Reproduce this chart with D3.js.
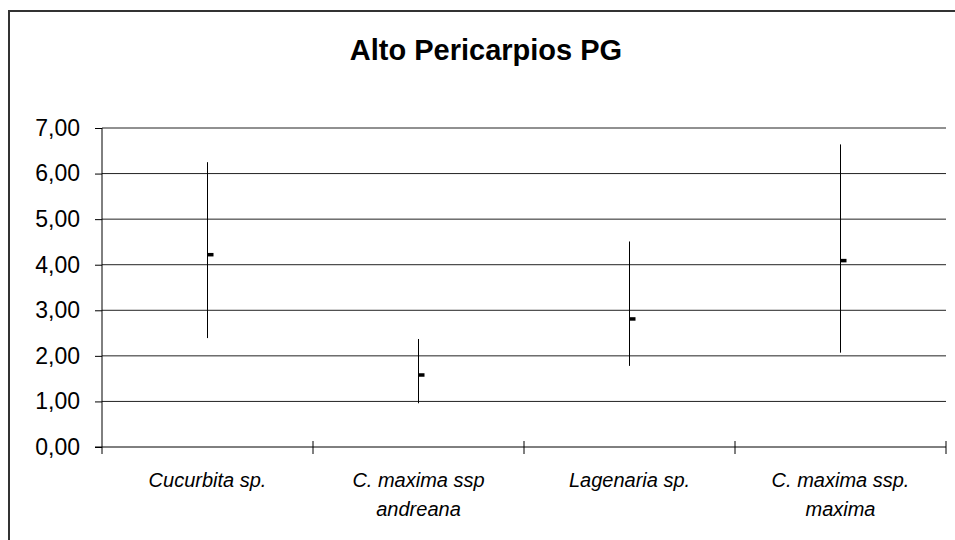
<!DOCTYPE html>
<html>
<head>
<meta charset="utf-8">
<script src="https://cdn.jsdelivr.net/npm/d3@7"></script>
<style>
  html, body { margin: 0; padding: 0; background: #fff; }
  svg { display: block; font-family: "Liberation Sans", Arial, sans-serif; }
</style>
</head>
<body>
<svg id="chart" width="955" height="540"></svg>
<script>
// ---- data ----
const categories = ["Cucurbita sp.", "C. maxima ssp andreana", "Lagenaria sp.", "C. maxima ssp. maxima"];
const categoryLabelLines = [["Cucurbita sp."], ["C. maxima ssp", "andreana"], ["Lagenaria sp."], ["C. maxima ssp.", "maxima"]];
const highValues = [6.25, 2.37, 4.51, 6.64];
const lowValues = [2.39, 0.96, 1.78, 2.07];
const meanValues = [4.22, 1.58, 2.81, 4.09];
const yTicks = [0, 1, 2, 3, 4, 5, 6, 7];
const chartTitle = "Alto Pericarpios PG";

// ---- layout ----
const svg = d3.select("#chart");
const plotLeft = 102, plotRight = 946, plotTop = 128, plotBottom = 447;

const locale = d3.formatLocale({decimal: ",", thousands: ".", grouping: [3], currency: ["", "€"]});
const fmt = locale.format(".2f");

const x = d3.scaleBand().domain(categories).range([plotLeft, plotRight]).padding(0);
const y = d3.scaleLinear().domain([0, 7]).range([plotBottom, plotTop]);

// outer frame
svg.append("rect")
  .attr("x", 9).attr("y", 11).attr("width", 960).attr("height", 540)
  .attr("fill", "none").attr("stroke", "#333").attr("stroke-width", 2);

// title
svg.append("text")
  .attr("x", 486).attr("y", 60)
  .attr("text-anchor", "middle")
  .attr("font-size", 29).attr("font-weight", "bold")
  .attr("fill", "#000")
  .text(chartTitle);

// gridlines
svg.append("g").selectAll("line").data(yTicks.filter(d => d > 0)).join("line")
  .attr("x1", plotLeft).attr("x2", plotRight)
  .attr("y1", d => y(d)).attr("y2", d => y(d))
  .attr("stroke", "#222").attr("stroke-width", 1);

// y axis
const yAxis = svg.append("g")
  .attr("transform", `translate(${plotLeft},0)`)
  .call(d3.axisLeft(y).tickValues(yTicks).tickFormat(fmt).tickSize(7).tickPadding(15));
yAxis.select(".domain").attr("stroke", "#000").attr("d", `M0,${plotTop}V${plotBottom + 7}`);
yAxis.selectAll(".tick line").attr("stroke", "#000");
yAxis.selectAll(".tick text")
  .attr("font-size", 23).attr("fill", "#000")
  .attr("font-family", "'Liberation Sans', Arial, sans-serif");

// x axis
svg.append("line")
  .attr("x1", plotLeft - 7).attr("x2", plotRight)
  .attr("y1", plotBottom).attr("y2", plotBottom)
  .attr("stroke", "#000").attr("stroke-width", 1);
const boundaries = categories.map(c => x(c)).concat([x.range()[1]]);
svg.append("g").selectAll("line").data(boundaries.slice(1)).join("line")
  .attr("x1", d => d).attr("x2", d => d)
  .attr("y1", plotBottom - 6).attr("y2", plotBottom + 7)
  .attr("stroke", "#000");

// category labels
const labels = svg.append("g");
categories.forEach((c, i) => {
  const cx = x(c) + x.bandwidth() / 2;
  const t = labels.append("text")
    .attr("text-anchor", "middle")
    .attr("font-size", 20).attr("font-style", "italic").attr("fill", "#000");
  categoryLabelLines[i].forEach((line, j) => {
    t.append("tspan").attr("x", cx).attr("y", 487 + j * 29).text(line);
  });
});

// high-low lines
const marks = svg.append("g");
marks.selectAll("line").data(categories).join("line")
  .attr("x1", d => x(d) + x.bandwidth() / 2)
  .attr("x2", d => x(d) + x.bandwidth() / 2)
  .attr("y1", (d, i) => y(highValues[i]))
  .attr("y2", (d, i) => y(lowValues[i]))
  .attr("stroke", "#000").attr("stroke-width", 1);

// mean (close) markers
marks.selectAll("rect").data(categories).join("rect")
  .attr("x", d => x(d) + x.bandwidth() / 2)
  .attr("y", (d, i) => y(meanValues[i]) - 1.75)
  .attr("width", 6).attr("height", 3.5)
  .attr("fill", "#000");
</script>
</body>
</html>
